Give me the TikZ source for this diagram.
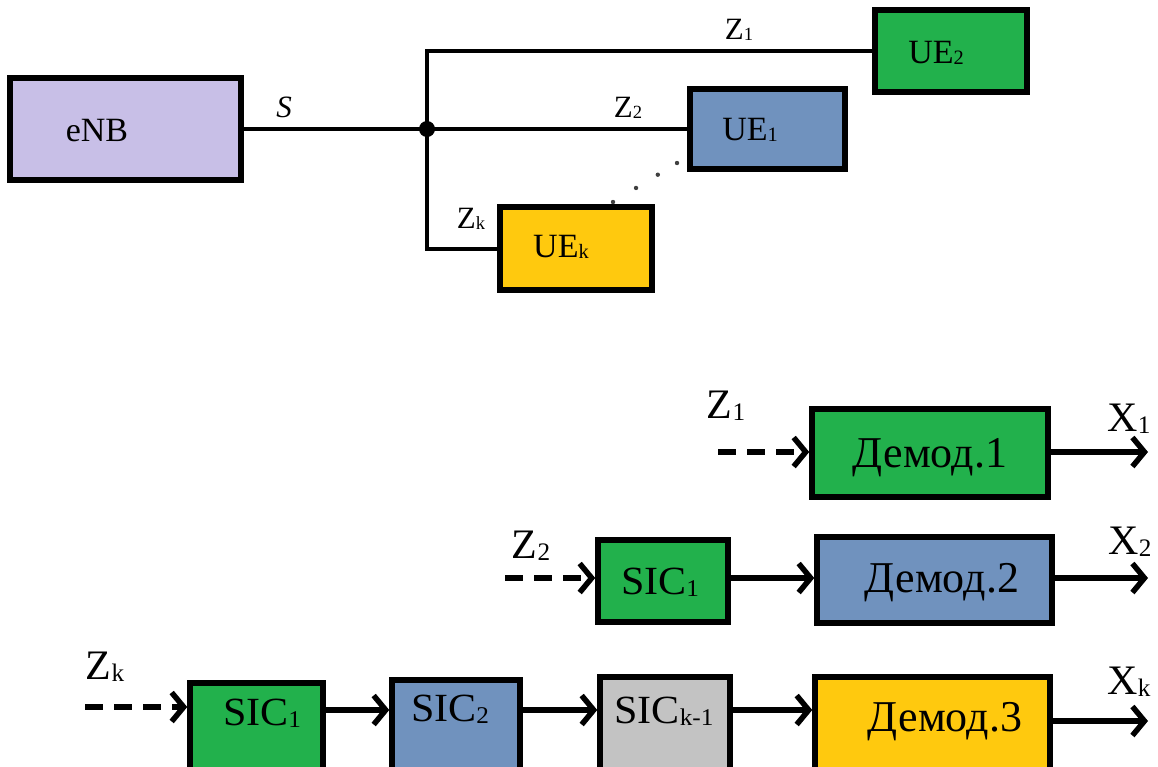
\documentclass[tikz,border=0pt]{standalone}
\usepackage{fontspec}
\setmainfont{Liberation Serif}
\usetikzlibrary{arrows.meta,calc}
\definecolor{enbfill}{HTML}{C8BFE7}
\definecolor{grn}{HTML}{22B14C}
\definecolor{blu}{HTML}{7092BE}
\definecolor{ylw}{HTML}{FFC90E}
\definecolor{gry}{HTML}{C3C3C3}
% small index sitting near the baseline
\newcommand\ix[1]{\raisebox{-0.04em}{\scalebox{0.6}{#1}}}
% slightly widened block caption
\newcommand\wide[1]{\scalebox{1.05}[1]{#1}}
\tikzset{
  blk/.style={draw, line width=5.5pt, inner sep=0pt},
  wire/.style={line width=4pt},
  flow/.style={line width=5.5pt, -{Straight Barb[length=12pt,width=29pt,line width=5.5pt]}},
  inflow/.style={flow, dash pattern=on 18pt off 11pt},
  lbl/.style={inner sep=0pt, font=\fontsize{34}{36}\selectfont},
  zlbl/.style={inner sep=0pt, font=\fontsize{31}{33}\selectfont},
  big/.style={inner sep=0pt, font=\fontsize{44}{46}\selectfont},
  sic/.style={inner sep=0pt, font=\fontsize{40}{42}\selectfont},
  io/.style={inner sep=0pt, font=\fontsize{42}{44}\selectfont},
}
\begin{document}
\begin{tikzpicture}[x=1pt,y=-1pt]
\useasboundingbox (0,0) rectangle (1158,766);
\clip (0,0) rectangle (1158,766);

% ---------- network: base station and user equipments ----------
\node[blk, fill=enbfill, minimum width=231pt, minimum height=102pt] (enb) at (125.5,129) {};
\node[lbl] (enbt) at (97,131) {eNB};
\node[blk, fill=grn, minimum width=152pt, minimum height=82pt] (ue2) at (951,51) {};
\node[lbl] (ue2t) at (936,53) {UE\ix{2}};
\node[blk, fill=blu, minimum width=155pt, minimum height=80pt] (ue1) at (767.5,129) {};
\node[lbl] (ue1t) at (750,130) {UE\ix{1}};
\node[blk, fill=ylw, minimum width=152pt, minimum height=83pt] (uek) at (576,248.5) {};
\node[lbl] (uekt) at (561,247) {UE\ix{k}};

\coordinate (j) at (427,129);
\draw[wire] (enb.east) -- (j);
\draw[wire] (j) |- (ue2.west);
\draw[wire] (j) -- (ue1.west);
\draw[wire] (j) |- (uek.west);
\fill (j) circle (8pt);

\node[zlbl, font=\fontsize{31}{33}\selectfont\itshape] (s) at (284,107) {S};
\node[zlbl] (z1t) at (739,30) {Z\ix{1}};
\node[zlbl] (z2t) at (628,108) {Z\ix{2}};
\node[zlbl] (zkt) at (471,219) {Z\ix{k}};

% dots between UE1 and UEk
\coordinate (d1) at (613,202);
\coordinate (d2) at (677,163);
\foreach \t in {0,0.36,0.7,1}
  \fill[black!75] ($(d1)!\t!(d2)$) circle (2.2pt);

% ---------- receiver chains ----------
% chain 1
\node[blk, fill=grn, minimum width=236pt, minimum height=88pt] (dem1) at (930,453) {};
\node[big] (dem1t) at (930,458) {Демод.1};
\coordinate (in1) at (718,452);
\coordinate (out1) at (1148,452);
\draw[inflow] (in1) -- (in1 -| dem1.west);
\draw[flow] (dem1.east |- out1) -- (out1);
\node[io] (z1b) at (726,406) {Z\ix{1}};
\node[io] (x1b) at (1129,419) {X\ix{1}};

% chain 2
\node[blk, fill=grn, minimum width=130pt, minimum height=82pt] (s21) at (663,581) {};
\node[sic] (s21t) at (660,582) {\wide{SIC\ix{1}}};
\node[blk, fill=blu, minimum width=235pt, minimum height=86pt] (dem2) at (934.5,580) {};
\node[big] (dem2t) at (942,583) {Демод.2};
\coordinate (in2) at (505,578);
\coordinate (out2) at (1148,578);
\draw[inflow] (in2) -- (in2 -| s21.west);
\draw[flow] (s21.east |- in2) -- (dem2.west |- in2);
\draw[flow] (dem2.east |- out2) -- (out2);
\node[io] (z2b) at (531,546) {Z\ix{2}};
\node[io] (x2b) at (1130,542) {X\ix{2}};

% chain k
\node[blk, fill=grn, minimum width=133pt, minimum height=96pt] (s31) at (256.5,731) {};
\node[sic] (s31t) at (262,713) {\wide{SIC\ix{1}}};
\node[blk, fill=blu, minimum width=128pt, minimum height=99pt] (s32) at (456,729.5) {};
\node[sic] (s32t) at (450,709) {\wide{SIC\ix{2}}};
\node[blk, fill=gry, minimum width=130pt, minimum height=102pt] (s3k) at (665,728) {};
\node[sic] (s3kt) at (664,711) {\wide{SIC\ix{k-1}}};
\node[blk, fill=ylw, minimum width=235pt, minimum height=102pt] (dem3) at (932.5,728) {};
\node[big] (dem3t) at (945,722) {Демод.3};
\coordinate (in3) at (85,707);
\coordinate (r3) at (0,710);
\coordinate (out3) at (1148,721);
\draw[inflow] (in3) -- (in3 -| s31.west);
\draw[flow] (s31.east |- r3) -- (s32.west |- r3);
\draw[flow] (s32.east |- r3) -- (s3k.west |- r3);
\draw[flow] (s3k.east |- r3) -- (dem3.west |- r3);
\draw[flow] (dem3.east |- out3) -- (out3);
\node[io] (zkb) at (105,667) {Z\ix{k}};
\node[io] (xkb) at (1129,682) {X\ix{k}};
\end{tikzpicture}
\end{document}
